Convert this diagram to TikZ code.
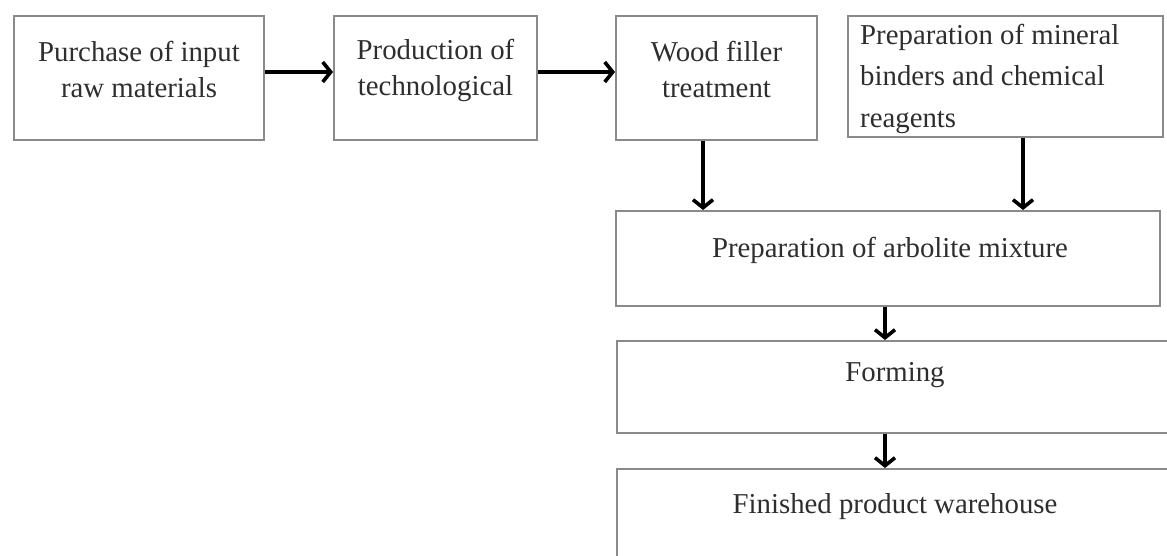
\documentclass[tikz,border=0pt]{standalone}
\usepackage{fontspec}
\setmainfont{Liberation Serif}
\usetikzlibrary{arrows.meta}
\definecolor{boxline}{HTML}{8A8A8A}
\definecolor{txtcol}{HTML}{2E2E2E}
\tikzset{
  box/.style={draw=boxline, line width=2pt, rectangle, inner sep=0pt, fill=white},
  txt/.style={text=txtcol, inner sep=0pt, font=\fontsize{28.8}{36}\selectfont},
  arr/.style={draw=black, line width=3.6pt, -{Straight Barb[length=8pt,width=20pt,line width=3.6pt]}}
}
\begin{document}
\begin{tikzpicture}[x=1pt,y=-1pt]
\useasboundingbox[fill=white] (0,0) rectangle (1167,556);
\clip (0,0) rectangle (1167,556);
% top row
\node[box, minimum width=250pt, minimum height=124pt] (b1) at (139,78) {};
\node[txt, align=center] (t1) at (139,70) {Purchase of input\\raw materials};
\node[box, minimum width=203pt, minimum height=124pt] (b2) at (435.5,78) {};
\node[txt, align=center] (t2) at (435.5,70) {Production of\\technological};
\node[box, minimum width=201pt, minimum height=124pt] (b3) at (716.5,78) {};
\node[txt, align=center] (t3) at (716.5,70) {Wood filler\\treatment};
\node[box, minimum width=315pt, minimum height=121pt] (b4) at (1005.5,76.5) {};
\node[txt, align=left, anchor=west, font=\fontsize{28.8}{41.5}\selectfont] (t4) at (860,78.5) {Preparation of mineral\\binders and chemical\\reagents};
% column
\node[box, minimum width=544pt, minimum height=95pt] (b5) at (888,258.5) {};
\node[txt] (t5) at (890,250) {Preparation of arbolite mixture};
\node[box, minimum width=580pt, minimum height=92pt, anchor=north west] (b6) at (616,340) {};
\node[txt] (t6) at (895,375) {Forming};
\node[box, minimum width=580pt, minimum height=120pt, anchor=north west] (b7) at (616,468) {};
\node[txt] (t7) at (895,507) {Finished product warehouse};
% connectors
\draw[arr] ([yshift=6pt]b1.east) -- ([yshift=6pt]b1.east -| b2.west);
\draw[arr] ([yshift=6pt]b2.east) -- ([yshift=6pt]b2.east -| b3.west);
\draw[arr] ([xshift=-13.5pt]b3.south) -- ([xshift=-13.5pt]b3.south |- b5.north);
\draw[arr] ([xshift=17.5pt]b4.south) -- ([xshift=17.5pt]b4.south |- b5.north);
\draw[arr] ([xshift=-3pt]b5.south) -- ([xshift=-3pt]b5.south |- b6.north);
\draw[arr] ([xshift=-3pt]b5.south |- b6.south) -- ([xshift=-3pt]b5.south |- b7.north);
\end{tikzpicture}
\end{document}
